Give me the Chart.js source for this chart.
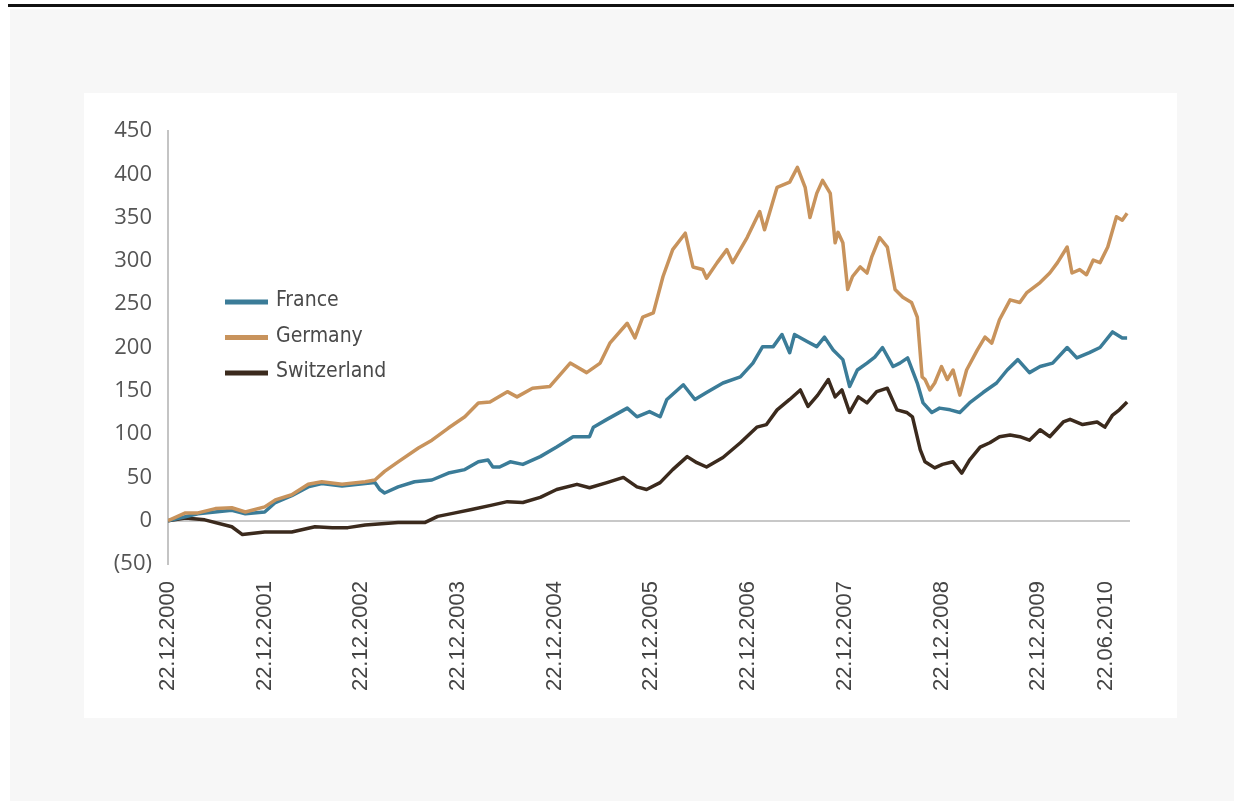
<!DOCTYPE html>
<html lang="en">
<head>
  <meta charset="UTF-8">
  <title>France / Germany / Switzerland</title>
  <script src="https://cdn.jsdelivr.net/npm/chart.js"></script>
  <style>
    body {
      margin: 0;
      background: #ffffff;
      width: 1234px;
      height: 801px;
      overflow: hidden;
      position: relative;
    }
    .topline {
      position: absolute;
      left: 8px;
      top: 4px;
      width: 1226px;
      height: 3px;
      background: #111;
    }
    .bg {
      position: absolute;
      left: 10px;
      top: 9px;
      right: 0;
      bottom: 0;
      background: #f7f7f7;
    }
    .panel {
      position: absolute;
      left: 84px;
      top: 93px;
      width: 1093px;
      height: 625px;
      background: #fff;
    }
  </style>
</head>
<body>
  <div class="topline"></div>
  <div class="bg"></div>
  <div class="panel">
    <canvas id="chart" width="1093" height="625"></canvas>
  </div>

  <script>
    // x = years since 22.12.2000
    const xTickVals = [0, 1, 2, 3, 4, 5, 6, 7, 8, 9, 9.7];
    const xTickLabels = ['22.12.2000', '22.12.2001', '22.12.2002', '22.12.2003', '22.12.2004',
      '22.12.2005', '22.12.2006', '22.12.2007', '22.12.2008', '22.12.2009', '22.06.2010'];
    const yTickVals = [-50, 0, 50, 100, 150, 200, 250, 300, 350, 400, 450];
    const yTickLabels = ['(50)', '0', '50', '100', '150', '200', '250', '300', '350', '400', '450'];

    const fraT = [0,0.31,0.66,0.80,1.00,1.11,1.28,1.45,1.59,1.80,
      2.04,2.14,2.19,2.24,2.38,2.55,2.73,2.90,3.07,3.21,
      3.31,3.36,3.43,3.54,3.67,3.85,4.02,4.19,4.36,4.40,
      4.54,4.75,4.85,4.98,5.09,5.16,5.33,5.45,5.57,5.74,
      5.92,6.05,6.15,6.26,6.35,6.43,6.48,6.61,6.71,6.79,
      6.88,6.98,7.05,7.13,7.23,7.31,7.39,7.50,7.57,7.65,
      7.75,7.81,7.90,7.98,8.09,8.19,8.29,8.43,8.57,8.68,
      8.79,8.91,9.02,9.15,9.30,9.40,9.53,9.64,9.77,9.87,
      9.92];
    const fraV = [0,8,12,8,10,21,29,39,43,40,
      43,44,36,32,39,45,47,55,59,68,
      70,62,62,68,65,74,85,97,97,108,
      117,130,120,126,120,140,157,140,148,159,
      166,182,201,201,215,194,215,207,201,212,
      197,186,155,174,182,189,200,178,182,188,
      159,136,125,130,128,125,136,148,159,174,
      186,171,178,182,200,188,194,200,218,211,
      211];

    const gerT = [0,0.18,0.31,0.49,0.66,0.80,1.00,1.11,1.28,1.45,
      1.59,1.80,2.04,2.14,2.24,2.38,2.59,2.73,2.90,3.07,
      3.21,3.33,3.51,3.61,3.77,3.95,4.16,4.33,4.47,4.57,
      4.75,4.83,4.91,5.02,5.12,5.22,5.35,5.43,5.53,5.57,
      5.68,5.78,5.84,5.99,6.12,6.17,6.30,6.43,6.51,6.59,
      6.64,6.71,6.77,6.85,6.90,6.93,6.98,7.03,7.08,7.16,
      7.23,7.28,7.36,7.44,7.52,7.60,7.69,7.75,7.80,7.83,
      7.88,7.93,8.00,8.06,8.12,8.19,8.26,8.37,8.45,8.52,
      8.60,8.71,8.81,8.88,9.02,9.12,9.20,9.30,9.35,9.43,
      9.50,9.57,9.64,9.72,9.81,9.87,9.92];
    const gerV = [0,9,9,14,15,10,16,24,30,42,
      45,42,45,47,57,68,84,93,107,120,
      136,137,149,143,153,155,182,171,182,205,
      228,211,235,240,282,313,332,293,290,280,
      298,313,298,327,357,336,385,391,408,385,
      350,378,393,378,321,333,321,267,282,293,
      286,305,327,316,267,258,252,235,166,163,
      151,159,178,163,174,145,174,197,212,205,
      232,255,252,263,275,286,298,316,286,290,
      284,301,298,316,351,347,355];

    const swiT = [0,0.18,0.38,0.66,0.77,1.00,1.28,1.52,1.70,1.86,
      2.04,2.38,2.66,2.79,2.97,3.14,3.35,3.51,3.67,3.85,
      4.02,4.23,4.36,4.54,4.71,4.85,4.95,5.09,5.22,5.37,
      5.47,5.57,5.74,5.92,6.09,6.19,6.30,6.43,6.54,6.62,
      6.72,6.83,6.90,6.97,7.05,7.14,7.23,7.33,7.44,7.54,
      7.64,7.70,7.78,7.83,7.93,8.01,8.12,8.21,8.29,8.40,
      8.50,8.60,8.71,8.81,8.91,9.02,9.12,9.26,9.33,9.46,
      9.61,9.69,9.77,9.84,9.92];
    const swiV = [0,3,1,-7,-16,-13,-13,-7,-8,-8,
      -5,-2,-2,5,9,13,18,22,21,27,
      36,42,38,44,50,39,36,44,59,74,
      67,62,73,90,108,111,128,140,151,132,
      145,163,143,151,125,143,136,149,153,128,
      125,120,82,68,61,65,68,55,70,85,
      90,97,99,97,93,105,97,114,117,111,
      114,108,122,128,137];

    function pts(t, v) {
      const n = Math.min(t.length, v.length);
      const out = [];
      for (let i = 0; i < n; i++) out.push({ x: t[i], y: v[i] });
      return out;
    }

    // legend drawn inside the plot, like the original
    const innerLegend = {
      id: 'innerLegend',
      afterDatasetsDraw(chart) {
        const ctx = chart.ctx;
        const a = chart.chartArea;
        const x0 = a.left + 57, y0 = a.top + 171;
        ctx.save();
        ctx.font = '21px "DejaVu Sans Condensed", "Open Sans", sans-serif';
        ctx.textBaseline = 'middle';
        chart.data.datasets.forEach((ds, i) => {
          const y = y0 + i * 35.5;
          ctx.strokeStyle = ds.borderColor;
          ctx.lineWidth = 5;
          ctx.beginPath();
          ctx.moveTo(x0, y);
          ctx.lineTo(x0 + 43, y);
          ctx.stroke();
          ctx.fillStyle = '#4a4a4a';
          ctx.fillText(ds.label, x0 + 51, y - 1);
        });
        ctx.restore();
      }
    };

    new Chart(document.getElementById('chart'), {
      type: 'line',
      data: {
        datasets: [
          { label: 'France', data: pts(fraT, fraV), borderColor: '#3b7c98', order: 1 },
          { label: 'Germany', data: pts(gerT, gerV), borderColor: '#c8935c', order: 0 },
          { label: 'Switzerland', data: pts(swiT, swiV), borderColor: '#3b2a1d', order: 2 }
        ]
      },
      options: {
        responsive: false,
        animation: false,
        devicePixelRatio: 1,
        elements: {
          line: { borderWidth: 3.5, tension: 0, borderJoinStyle: 'round' },
          point: { radius: 0 }
        },
        layout: { padding: { left: 0, top: 38, right: 47, bottom: 0 } },
        plugins: {
          legend: { display: false },
          tooltip: { enabled: false }
        },
        scales: {
          x: {
            type: 'linear',
            min: 0,
            max: 9.95,
            afterFit: s => { s.height = 154; },
            afterBuildTicks: s => { s.ticks = xTickVals.map(v => ({ value: v })); },
            grid: { display: false, drawTicks: false },
            border: { display: false },
            ticks: {
              autoSkip: false,
              minRotation: 90,
              maxRotation: 90,
              padding: 17,
              color: '#444',
              font: { family: '"Liberation Sans", Arial, sans-serif', size: 22 },
              callback: (v, i) => xTickLabels[i]
            }
          },
          y: {
            min: -50,
            max: 450,
            afterFit: s => { s.width = 84; },
            afterBuildTicks: s => { s.ticks = yTickVals.map(v => ({ value: v })); },
            grid: {
              drawTicks: false,
              lineWidth: 2,
              color: c => (c.tick && c.tick.value === 0) ? '#c8c8c8' : 'rgba(0,0,0,0)'
            },
            border: { color: '#c4c4c4', width: 2 },
            ticks: {
              padding: 16,
              color: '#555',
              font: { family: '"Open Sans", sans-serif', size: 22 },
              callback: (v, i) => yTickLabels[i]
            }
          }
        }
      },
      plugins: [innerLegend]
    });
  </script>
</body>
</html>
